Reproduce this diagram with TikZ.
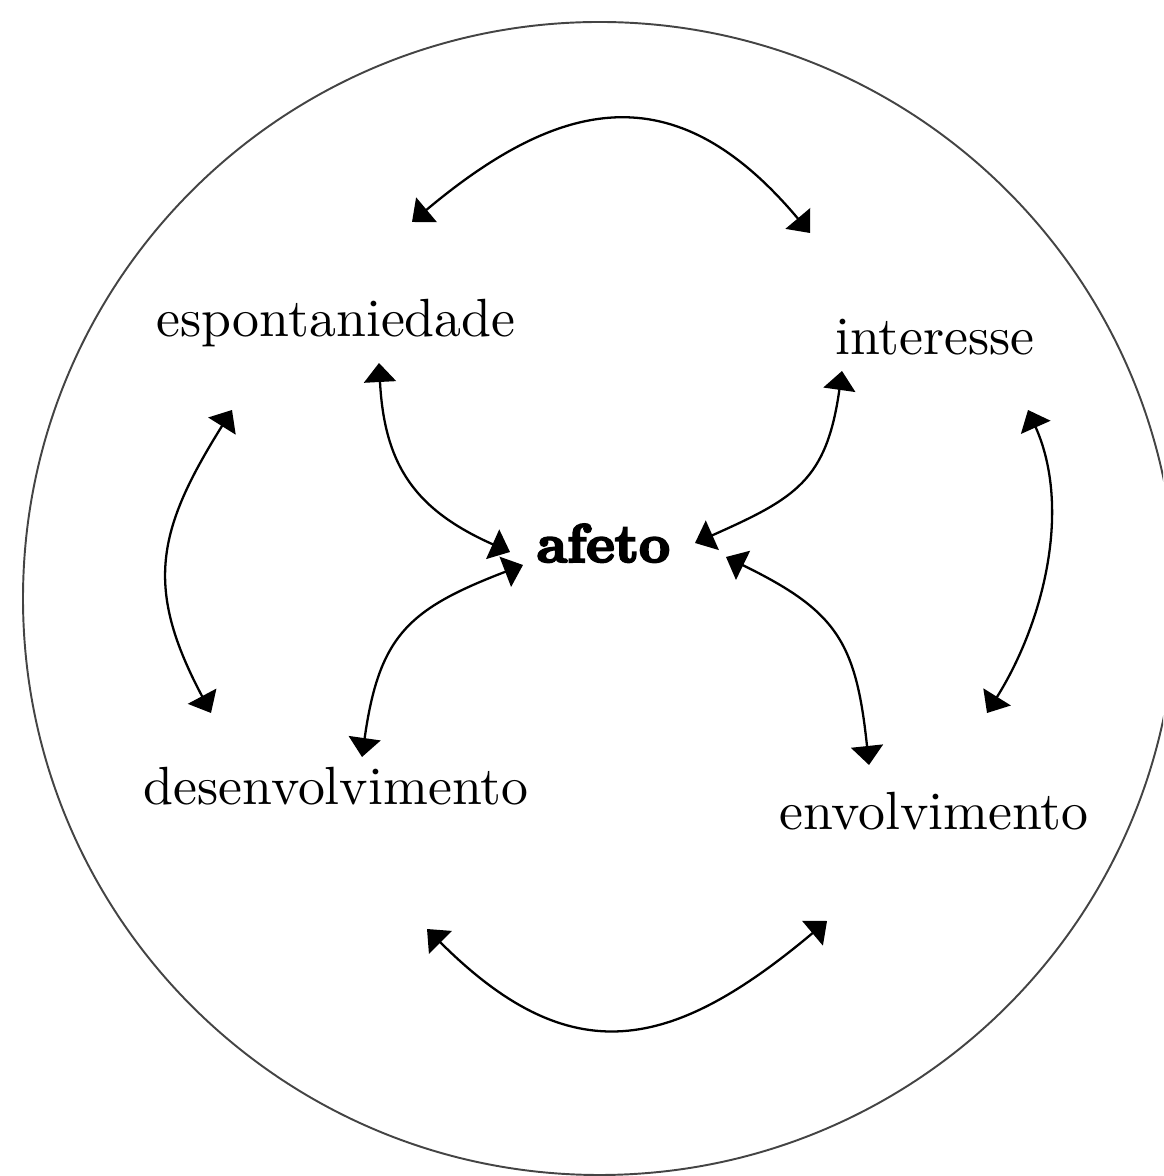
\documentclass[tikz,border=0pt]{standalone}
\usepackage{fontspec}
\setmainfont{lmroman10-regular.otf}
\newfontfamily\hubfont{lmroman10-bold.otf}[FakeBold=4]
\usepackage{xcolor}
\definecolor{RimGray}{HTML}{444444}
\usepackage{tikz}
\usetikzlibrary{arrows.meta}

\begin{document}
\begin{tikzpicture}[
  x=0.01cm, y=0.01cm,
  lbl/.style={font=\fontsize{15.3}{18}\selectfont, inner sep=0pt, anchor=base},
  hub/.style={font=\fontsize{15.4}{18}\selectfont\hubfont, inner sep=0pt, anchor=base},
  arr/.style={{Triangle[length=1.9mm, width=3.2mm]}-{Triangle[length=1.9mm, width=3.2mm]},
              line width=0.65pt, black},
  rim/.style={draw=RimGray, line width=0.55pt}
]
  \useasboundingbox (0,0) rectangle (1163,1176);
  \clip (0,0) rectangle (1163,1176);
  \draw[rim] (599.5,577.5) circle[radius=576.5];

  % labels
  \node[hub] (afeto) at (603.5,614) {afeto};
  \node[lbl] (esp) at (336,839) {espontaniedade};
  \node[lbl] (int) at (935,821) {interesse};
  \node[lbl] (des) at (336,371) {desenvolvimento};
  \node[lbl] (env) at (934,346) {envolvimento};

  % arrow ends
  \coordinate (topL) at (412,954);
  \coordinate (topR) at (810,943);
  \coordinate (botL) at (427,247);
  \coordinate (botR) at (827,255);
  \coordinate (sideLT) at (232,766);
  \coordinate (sideLB) at (211,463);
  \coordinate (sideRT) at (1028,766);
  \coordinate (sideRB) at (987,463);
  \coordinate (espA) at (379,813);
  \coordinate (espB) at (510,624);
  \coordinate (intA) at (842,805);
  \coordinate (intB) at (695,633);
  \coordinate (desA) at (362,419);
  \coordinate (desB) at (523,611);
  \coordinate (envA) at (869,411);
  \coordinate (envB) at (726,619);

  % outer ring of arrows
  \draw[arr] (topL) to[out=40, in=130, looseness=1.3] (topR);
  \draw[arr] (botL) to[out=-45, in=220, looseness=1.3] (botR);
  \draw[arr] (sideLT) to[out=238, in=118, looseness=1.2] (sideLB);
  \draw[arr] (sideRT) to[out=294, in=58, looseness=0.9] (sideRB);

  % arrows to the centre
  \draw[arr] (espA) to[out=273, in=156, looseness=1.15] (espB);
  \draw[arr] (intA) to[out=262, in=24, looseness=1.25] (intB);
  \draw[arr] (desA) to[out=82, in=201, looseness=1.25] (desB);
  \draw[arr] (envA) to[out=96, in=334, looseness=1.25] (envB);
\end{tikzpicture}
\end{document}
